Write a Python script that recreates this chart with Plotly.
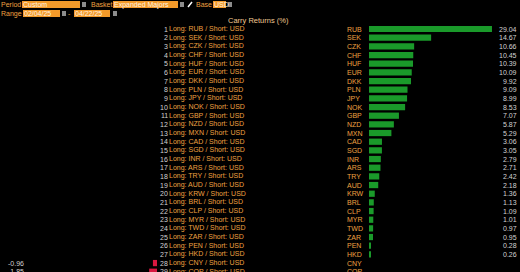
import plotly.graph_objects as go

W, H = 520, 272

currencies = ["RUB", "SEK", "CZK", "CHF", "HUF", "EUR", "DKK", "PLN", "JPY", "NOK",
              "GBP", "NZD", "MXN", "CAD", "SGD", "INR", "ARS", "TRY", "AUD", "KRW",
              "BRL", "CLP", "MYR", "TWD", "ZAR", "PEN", "HKD", "CNY", "COP"]
returns = [29.04, 14.67, 10.66, 10.45, 10.39, 10.09, 9.92, 9.09, 8.99, 8.53,
           7.07, 5.87, 5.29, 3.06, 3.05, 2.79, 2.71, 2.42, 2.18, 1.36,
           1.13, 1.09, 1.01, 0.97, 0.95, 0.28, 0.26, -0.96, -1.85]
base = "USD"
title = "Carry Returns (%)"
period, basket, date_from, date_to = "Custom", "Expanded Majors", "02/04/25", "04/22/25"

FONT = "Liberation Sans, Arial, sans-serif"
FS = 7
ORANGE = "#eea040"
LIGHT = "#d2d2d2"
GREEN = "#1a9a2a"
RED = "#d81840"
PXU = 4.235  # pixels per unit

def px(x):
    return x / W

def py(y):
    return 1 - y / H

pos_c = [c for c, v in zip(currencies, returns) if v > 0]
pos_v = [v for v in returns if v > 0]
neg_c = [c for c, v in zip(currencies, returns) if v < 0]
neg_v = [v for v in returns if v < 0]

fig = go.Figure()
fig.add_trace(go.Bar(x=pos_v, y=pos_c, orientation="h", marker=dict(color=GREEN, line_width=0),
                     width=0.72, xaxis="x", yaxis="y", hoverinfo="skip"))
fig.add_trace(go.Bar(x=neg_v, y=neg_c, orientation="h", marker=dict(color=RED, line_width=0),
                     width=0.72, xaxis="x2", yaxis="y", hoverinfo="skip"))

ann = []

def txt(text, x, y, anchor, color, yref="y", size=FS):
    ann.append(dict(text=text, x=x, y=y, xref="paper", yref=yref, xanchor=anchor, yanchor="middle",
                    showarrow=False, borderpad=0, borderwidth=0,
                    font=dict(color=color, size=size, family=FONT)))

for i, (c, v) in enumerate(zip(currencies, returns)):
    txt(str(i + 1), px(168), c, "right", LIGHT)
    txt(f"Long: {c} / Short: {base}", px(169), c, "left", ORANGE)
    txt(c, px(347), c, "left", ORANGE)
    if v >= 0:
        txt(f"{v:.2f}", px(517), c, "right", LIGHT)
    else:
        txt(f"{v:.2f}", px(8), c, "left", LIGHT)

txt(title, px(258), py(21), "center", "#f0c890", yref="paper", size=7.5)

shapes = []

def field(x0, x1, y0, y1, text, dd_x):
    shapes.append(dict(type="rect", xref="paper", yref="paper", x0=px(x0), x1=px(x1), y0=py(y1), y1=py(y0),
                       fillcolor="#f39a2a", line_width=0, layer="below"))
    txt(text, px(x0 + 1), py((y0 + y1) / 2), "left", "#fff4e0", yref="paper")
    shapes.append(dict(type="rect", xref="paper", yref="paper", x0=px(dd_x), x1=px(dd_x + 4),
                       y0=py(y1 - 1), y1=py(y0 + 1), fillcolor="#8c8c8c", line_width=0))

def label(x, y, text):
    txt(text, px(x), py(y), "left", ORANGE, yref="paper")

label(1, 4.5, "Period")
field(22, 80, 1, 8, period, 82)
label(91, 4.5, "Basket")
field(113, 178, 1, 8, basket, 180)
shapes.append(dict(type="line", xref="paper", yref="paper", x0=px(188), x1=px(192), y0=py(7), y1=py(2),
                   line=dict(color="white", width=1.5)))
label(196, 4.5, "Base")
field(213, 226, 1, 8, base, 228)
label(1, 13.5, "Range")
field(23, 60, 10, 17, date_from, 62)
shapes.append(dict(type="rect", xref="paper", yref="paper", x0=px(113), x1=px(117),
                   y0=py(16), y1=py(11), fillcolor="#8c8c8c", line_width=0))
label(68, 13.5, "-")
field(74, 110, 10, 17, date_to, 113)

fig.update_layout(
    width=W, height=H, margin=dict(l=0, r=0, t=0, b=0),
    paper_bgcolor="black", plot_bgcolor="black", showlegend=False, barmode="overlay",
    xaxis=dict(domain=[px(369), 1], range=[0, (W - 369) / PXU], visible=False, fixedrange=True),
    xaxis2=dict(domain=[0, px(157)], range=[-157 / PXU, 0], visible=False, fixedrange=True),
    yaxis=dict(type="category", categoryorder="array", categoryarray=currencies,
               range=[28.03, -3.345], visible=False, fixedrange=True),
    annotations=ann, shapes=shapes,
)

fig.write_html("out.html")
